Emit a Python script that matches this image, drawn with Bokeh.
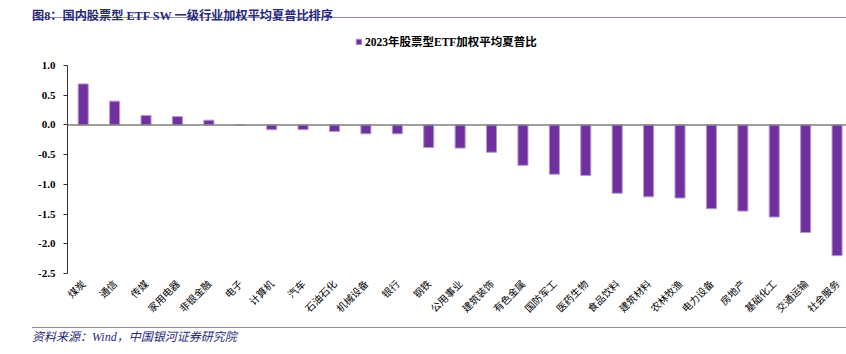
from math import pi
from bokeh.plotting import figure
from bokeh.layouts import column
from bokeh.models import (ColumnDataSource, Range1d, FixedTicker, Span, Div,
                          Legend, LegendItem, PrintfTickFormatter)
from bokeh.embed import file_html
from bokeh.resources import INLINE

categories = ["煤炭", "通信", "传媒", "家用电器", "非银金融", "电子", "计算机", "汽车",
              "石油石化", "机械设备", "银行", "钢铁", "公用事业", "建筑装饰", "有色金属",
              "国防军工", "医药生物", "食品饮料", "建筑材料", "农林牧渔", "电力设备",
              "房地产", "基础化工", "交通运输", "社会服务"]
sharpe_2023 = [0.69, 0.40, 0.16, 0.14, 0.08, 0.00, -0.08, -0.08, -0.11, -0.15, -0.15,
               -0.38, -0.39, -0.46, -0.68, -0.83, -0.85, -1.15, -1.21, -1.23, -1.41,
               -1.45, -1.55, -1.81, -2.20]
y_ticks = [1.0, 0.5, 0.0, -0.5, -1.0, -1.5, -2.0, -2.5]
series_name = "2023年股票型ETF加权平均夏普比"
title_text = "图8：国内股票型 ETF SW 一级行业加权平均夏普比排序"
source_text = "资料来源：Wind，中国银河证券研究院"

MIX = "'Liberation Serif', 'Noto Sans CJK SC'"
NAVY = "#27287a"
RULE = "#8d88c6"

xs = list(range(len(categories)))
src = ColumnDataSource(dict(x=xs, v=sharpe_2023, cat=categories))

p = figure(width=846, height=296, output_backend="svg", toolbar_location=None,
           x_range=Range1d(-0.5, 24.3), y_range=Range1d(-2.5, 1.639),
           min_border_left=67, min_border_right=0, min_border_top=0,
           min_border_bottom=48)
p.outline_line_color = None
p.background_fill_color = "white"
p.border_fill_color = "white"
p.grid.visible = False

r = p.vbar(x="x", top="v", bottom=0, width=0.32, source=src,
           fill_color="#7030a0", line_color="#b39ad4", line_width=1)

p.add_layout(Span(location=0, dimension="width", line_color="#7f7f7f", line_width=1.5))

# y axis
ya = p.yaxis[0]
ya.ticker = FixedTicker(ticks=y_ticks)
ya.formatter = PrintfTickFormatter(format="%.1f")
ya.bounds = (-2.5, 1.0)
ya.axis_line_color = "#333333"
ya.major_tick_line_color = "#333333"
ya.major_tick_in = 0
ya.major_tick_out = 4
ya.minor_tick_line_color = None
ya.major_label_text_font = "Liberation Serif"
ya.major_label_text_font_style = "bold"
ya.major_label_text_font_size = "11px"
ya.major_label_text_color = "black"
ya.major_label_standoff = 8

# x axis
xa = p.xaxis[0]
xa.ticker = FixedTicker(ticks=xs)
xa.major_label_overrides = {i: c for i, c in zip(xs, categories)}
xa.axis_line_color = None
xa.major_tick_line_color = None
xa.minor_tick_line_color = None
xa.major_label_orientation = pi / 4
xa.major_label_text_font = "Noto Sans CJK SC"
xa.major_label_text_font_size = "10px"
xa.major_label_text_color = "black"
xa.major_label_standoff = 2

# legend (inside the frame, above the y-axis bounds)
leg = Legend(items=[LegendItem(label=series_name, renderers=[r])],
             location=(288, 224), orientation="horizontal",
             label_text_font=MIX, label_text_font_style="bold",
             label_text_font_size="11.5px", label_text_color="black",
             label_height=14, glyph_width=7, glyph_height=7, padding=2, margin=0,
             label_standoff=3, border_line_color=None, background_fill_alpha=0)
p.add_layout(leg)

title_div = Div(
    width=846, height=27, margin=(0, 0, 0, 0),
    text=(f'<div style="margin-left:32px;width:814px;height:18px;padding-top:7px;'
          f'line-height:18px;border-bottom:1.5px solid {RULE};font-family:{MIX};'
          f'font-weight:bold;font-size:12.2px;color:{NAVY};white-space:nowrap;">'
          f'{title_text}</div>'))

source_div = Div(
    width=846, height=31, margin=(0, 0, 0, 0),
    text=(f'<div style="margin-left:32px;margin-top:4px;width:814px;height:18px;'
          f'padding-top:1px;line-height:16px;border-top:1.5px solid {RULE};'
          f'font-family:{MIX};font-style:italic;font-size:12px;color:{NAVY};'
          f'white-space:nowrap;">{source_text}</div>'))

layout = column(title_div, p, source_div, spacing=0)

open("out.html", "w").write(file_html(layout, INLINE))
